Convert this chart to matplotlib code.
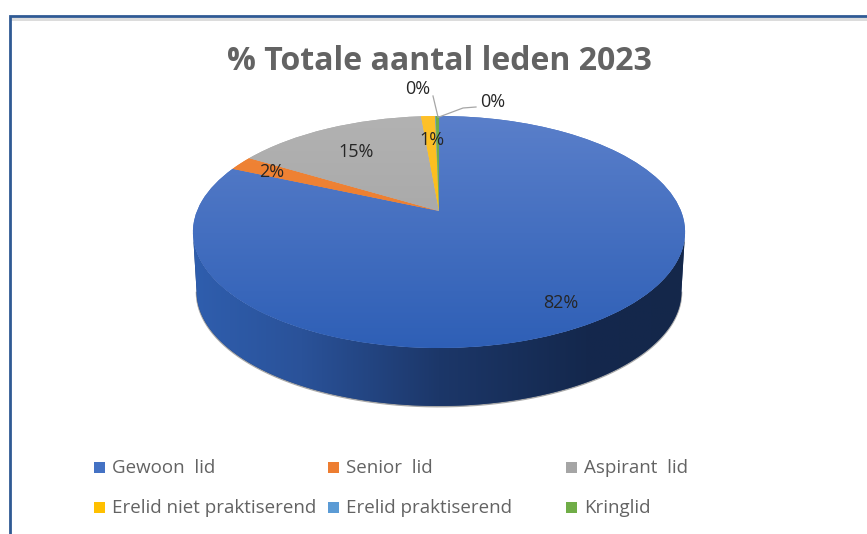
import numpy as np
import matplotlib
matplotlib.use("Agg")
import matplotlib.pyplot as plt
from matplotlib.colors import LinearSegmentedColormap, to_rgb
from matplotlib.patches import PathPatch, Polygon, Rectangle
from matplotlib.path import Path

names = ["Gewoon  lid", "Senior  lid", "Aspirant  lid",
         "Erelid niet praktiserend", "Erelid praktiserend", "Kringlid"]
values = [81.6, 2.0, 15.0, 1.1, 0.05, 0.25]
colors = ["#4472c4", "#ed7d31", "#a5a5a5", "#ffc000", "#5b9bd5", "#70ad47"]
title = "% Totale aantal leden 2023"

plt.rcParams["font.family"] = ["Open Sans", "DejaVu Sans"]

W, H = 867, 534
CX, CY = 439, 211    # where the slices meet, in pixels
R, S, K = 242, 112.2, 0.181    # tilted disc with some perspective
DEPTH = 60


def project(xy, drop=0.0, scale=1.0):
    # unit circle -> picture, far side is squeezed
    w = 1 + K * xy[:, 1]
    return np.column_stack((CX + scale * R * xy[:, 0] / w,
                            CY + drop - scale * S * xy[:, 1] / w))


fig = plt.figure(figsize=(W / 100, H / 100), dpi=100)
ax = fig.add_axes([0, 0, 1, 1])
wedges, _, pcts = ax.pie(values, colors=colors, startangle=90, counterclock=False,
                         autopct="%.0f%%")
ax.set_aspect("auto")
ax.set_xlim(0, W)
ax.set_ylim(H, 0)

# frame of the screenshot
ax.add_patch(Rectangle((11, 18), W, 3, fc="#dcdcdc", ec="none", zorder=1))
ax.plot([10, 10, W], [H, 16, 16], color="#2f5a94", lw=2.0, solid_joinstyle="miter", zorder=2)

# side wall, darkening to the right. only the front of the rim shows
main = wedges[0]
t = np.radians(np.linspace(main.theta1, main.theta2, 600))
rim = np.column_stack((np.cos(t), np.sin(t)))
rim = rim[rim[:, 1] <= -K]
top = project(rim)
bottom = project(rim, drop=DEPTH, scale=0.985)
wall_cmap = LinearSegmentedColormap.from_list(
    "wall", [(0.0, "#2f5eae"), (0.22, "#2a5299"), (0.5, "#1c3769"),
             (0.8, "#14284d"), (1.0, "#14274a")])
ax.plot(bottom[:, 0], bottom[:, 1] + 0.6, color="#6e6e6e", lw=1.3, alpha=0.6, zorder=2.5)
wall = Polygon(np.vstack((top, bottom[::-1])), closed=True, fc="#1c3769", ec="none", zorder=3)
ax.add_patch(wall)
wall_im = ax.imshow(np.linspace(0, 1, 256)[None, :], cmap=wall_cmap, vmin=0, vmax=1,
                    extent=(193, 685, 410, 200), aspect="auto", zorder=3.5)
wall_im.set_clip_path(wall)

# top faces with a light vertical gradient
shades = [("#5a7fca", "#2e5fb6"), ("#f08436", "#ea7a2c"), ("#b2b2b2", "#9e9e9e"),
          ("#ffc12a", "#f8b800"), ("#5b9bd5", "#5b9bd5"), ("#70ad47", "#70ad47")]
for w, (c0, c1) in zip(wedges, shades):
    p = w.get_patch_transform().transform_path(w.get_path())
    w.remove()
    mid = (np.array(to_rgb(c0)) + np.array(to_rgb(c1))) / 2
    face = PathPatch(Path(project(p.vertices), p.codes), fc=mid, ec="none", zorder=4)
    ax.add_patch(face)
    ramp = np.linspace(0, 1, 234)[:, None, None]
    img = (1 - ramp) * np.array(to_rgb(c0)) + ramp * np.array(to_rgb(c1))
    im = ax.imshow(img, extent=(190, 690, 350, 116), aspect="auto", zorder=5)
    im.set_clip_path(face)
ax.set_xlim(0, W)
ax.set_ylim(H, 0)

# data labels and their leader lines
label_pos = [(561, 303), (272, 172), (356, 152), (432, 140), (418, 89), (493, 102)]
for txt, pos in zip(pcts, label_pos):
    txt.set_position(pos)
    txt.set_fontsize(13)
    txt.set_color("#262626")
    txt.set_zorder(8)
    txt.set_ha("center")
    txt.set_va("center")
ax.plot([433, 438], [96, 117], color="#a6a6a6", lw=0.9, zorder=6)
ax.plot([439, 463, 476], [117, 108, 107], color="#a6a6a6", lw=0.9, zorder=6)

ax.text(439, 62, title, fontsize=23, fontweight="bold", color="#636363",
        ha="center", va="center", zorder=8)

# legend, two rows
leg_x = [94, 328, 566, 94, 328, 566]
leg_y = [467, 467, 467, 507, 507, 507]
for name, c, x, y in zip(names, colors, leg_x, leg_y):
    ax.add_patch(Rectangle((x, y - 5), 11, 11, fc=c, ec="none", zorder=8))
    ax.text(x + 18, y + 1, name, fontsize=13.5, color="#636363", ha="left", va="center", zorder=8)

fig.savefig("out.png", dpi=100)
